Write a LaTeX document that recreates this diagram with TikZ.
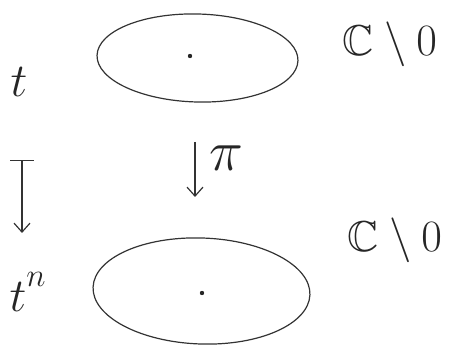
\documentclass[tikz,border=0pt]{standalone}
\usepackage{graphicx}
\usepackage{amssymb}
\usetikzlibrary{shapes.geometric,arrows.meta}
\begin{document}
\begin{tikzpicture}[x=1pt,y=-1pt,
  inkline/.style={draw=black!80,line width=1.2pt},
  disk/.style={ellipse,inkline,inner sep=0pt},
  lbl/.style={inner sep=0pt,text=black!85,font=\fontsize{24}{28}\selectfont},
  tip/.style={-{Straight Barb[length=9pt,width=16pt,line width=1.2pt]}},
  mtip/.style={{Bar[width=24pt,line width=1.2pt]}-{Straight Barb[length=9pt,width=16pt,line width=1.2pt]}}]
\useasboundingbox (0,0) rectangle (450,347);
% spaces
\node[disk,minimum width=201pt,minimum height=88pt,rotate=-1.5] (top) at (197.5,58) {};
\node[disk,minimum width=217pt,minimum height=106pt,rotate=-2] (bot) at (201.5,291) {};
\fill[black!85] (190,56) circle (2.2pt) coordinate (p1);
\fill[black!85] (202,293) circle (2.2pt) coordinate (p2);
% labels
\node[lbl] (t) at (19,82) {\scalebox{1.9}{$t$}};
\node[lbl] (tn) at (28,292) {\scalebox{1.9}{$t^{\raisebox{4pt}{$\scriptstyle n$}}$}};
\node[lbl] (c1) at (390,44) {\scalebox{1.8}{$\mathbb{C}\setminus 0$}};
\node[lbl] (c2) at (395,240) {\scalebox{1.8}{$\mathbb{C}\setminus 0$}};
% arrows
\coordinate (a1) at (195,142);
\coordinate (a2) at (195,197);
\draw[inkline,tip] (a1) -- (a2) node[lbl,pos=0.3,right=14pt] (pi) {\scalebox{2.3}{$\pi$}};
\coordinate (m1) at (22,160);
\coordinate (m2) at (22,233);
\draw[inkline,mtip] (m1) -- (m2);
\end{tikzpicture}
\end{document}
